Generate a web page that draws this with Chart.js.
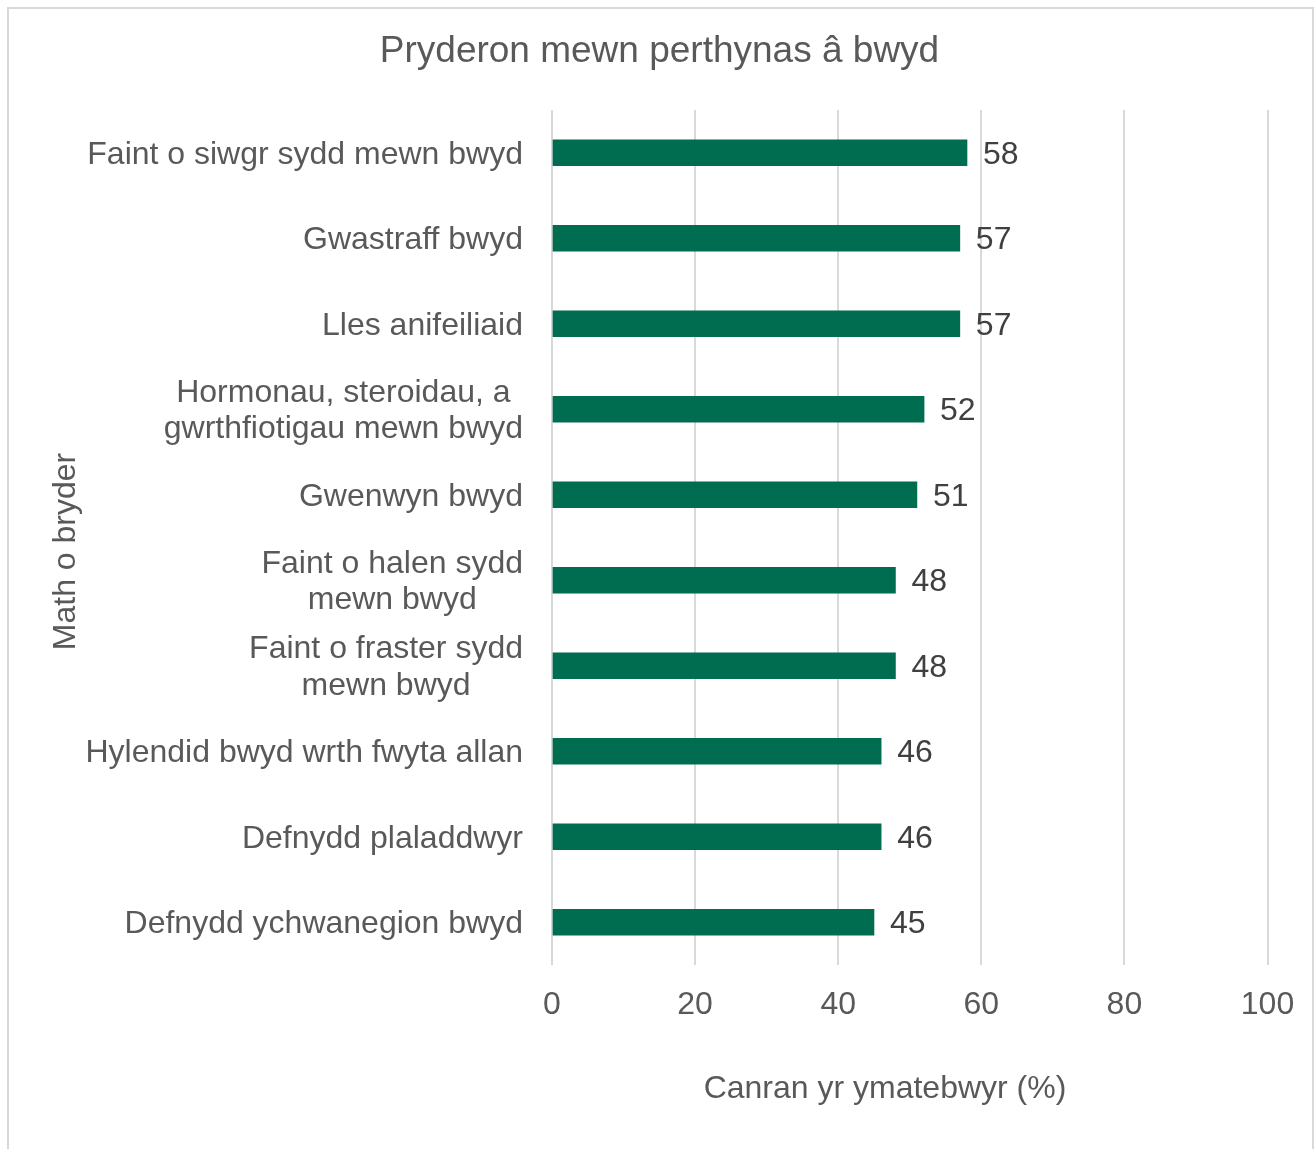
<!DOCTYPE html>
<html><head><meta charset="utf-8">
<script src="https://cdn.jsdelivr.net/npm/chart.js@4.4.1/dist/chart.umd.min.js"></script>
<style>
html,body{margin:0;padding:0;background:#fff;}
#wrap{position:absolute;left:0;top:0;width:1315px;height:1149px;overflow:hidden;}
#frame{position:absolute;left:7px;top:7px;width:1307px;height:1170px;border:2px solid #d9d9d9;box-sizing:border-box;}
canvas{position:absolute;left:0;top:0;}
</style></head><body>
<div id="wrap"><div id="frame"></div><canvas id="c" width="1315" height="1149" style="width:1315px;height:1149px"></canvas></div>
<script>
const chartTitle = 'Pryderon mewn perthynas â bwyd';
const xAxisTitle = 'Canran yr ymatebwyr (%)';
const yAxisTitle = 'Math o bryder';
const categories = [
  ['Faint o siwgr sydd mewn bwyd'],
  ['Gwastraff bwyd'],
  ['Lles anifeiliaid'],
  ['Hormonau, steroidau, a', 'gwrthfiotigau mewn bwyd'],
  ['Gwenwyn bwyd'],
  ['Faint o halen sydd', 'mewn bwyd'],
  ['Faint o fraster sydd', 'mewn bwyd'],
  ['Hylendid bwyd wrth fwyta allan'],
  ['Defnydd plaladdwyr'],
  ['Defnydd ychwanegion bwyd']
];
const values = [58, 57, 57, 52, 51, 48, 48, 46, 46, 45];
const xTicks = [0, 20, 40, 60, 80, 100];

const FONT = '"Liberation Sans", Arial, sans-serif';
const labelColor = '#595959';

const customDraw = {
  id: 'customDraw',
  afterDraw(chart) {
    const ctx = chart.ctx;
    const area = chart.chartArea;
    const ys = chart.scales.y;
    ctx.save();
    ctx.font = '32px ' + FONT;
    ctx.fillStyle = labelColor;
    ctx.textAlign = 'center';
    ctx.textBaseline = 'middle';
    const lineH = 36.5;
    categories.forEach((lines, i) => {
      const yc = ys.getPixelForTick(i) + 2;
      const maxW = Math.max(...lines.map(l => ctx.measureText(l).width));
      const cx = area.left - 29 - maxW / 2;
      const y0 = yc - (lines.length - 1) * lineH / 2;
      lines.forEach((l, k) => ctx.fillText(l, cx, y0 + k * lineH));
    });
    ctx.fillStyle = '#404040';
    ctx.textAlign = 'left';
    const meta = chart.getDatasetMeta(0);
    meta.data.forEach((bar, i) => {
      ctx.fillText(String(values[i]), bar.x + 16, bar.y + 2);
    });
    ctx.fillStyle = labelColor;
    ctx.textAlign = 'center';
    ctx.fillText(xAxisTitle, area.left + 333, area.bottom + 124);
    ctx.translate(66, (area.top + area.bottom) / 2 + 14);
    ctx.rotate(-Math.PI / 2);
    ctx.fillText(yAxisTitle, 0, 0);
    ctx.restore();
  }
};

new Chart(document.getElementById('c'), {
  type: 'bar',
  data: {
    labels: categories,
    datasets: [{
      data: values,
      backgroundColor: '#006D50',
      borderWidth: 0,
      barThickness: 26
    }]
  },
  options: {
    indexAxis: 'y',
    responsive: false,
    animation: false,
    events: [],
    layout: { padding: { left: 47, right: 43, top: 0, bottom: 0 } },
    plugins: {
      legend: { display: false },
      tooltip: { enabled: false },
      title: {
        display: true,
        text: chartTitle,
        color: labelColor,
        font: { family: FONT, size: 37, weight: 'normal' },
        padding: { top: 30, bottom: 35.6 }
      }
    },
    scales: {
      x: {
        min: 0, max: 100,
        afterBuildTicks(scale) { scale.ticks = xTicks.map(v => ({ value: v })); },
        afterFit(scale) { scale.height = 184; },
        grid: { color: '#d9d9d9', lineWidth: 2, drawTicks: false },
        border: { display: false },
        ticks: {
          color: labelColor,
          font: { family: FONT, size: 32 },
          padding: 20.8,
          maxRotation: 0
        }
      },
      y: {
        afterFit(scale) { scale.width = 505; },
        grid: { display: false, drawTicks: false },
        border: { display: false },
        ticks: { display: false }
      }
    }
  },
  plugins: [customDraw]
});
</script>
</body></html>
